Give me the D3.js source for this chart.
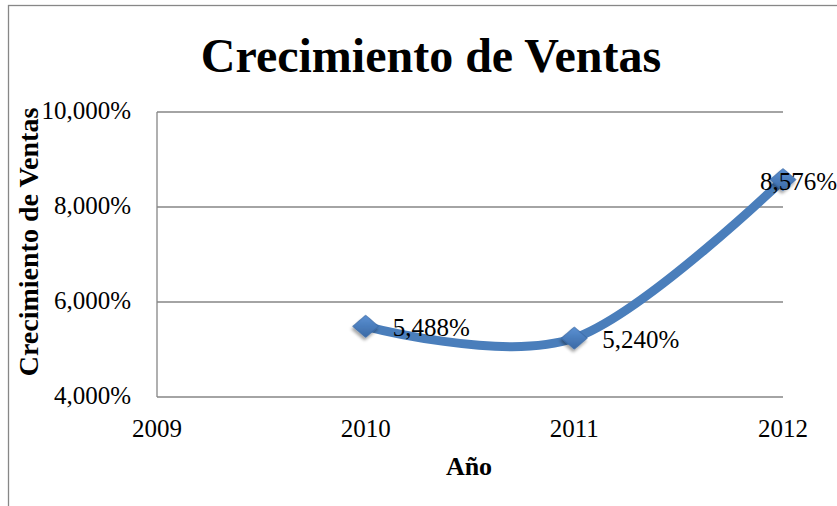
<!DOCTYPE html>
<meta charset="utf-8">
<style>
    body {
        margin: 0;
        background: #fff;
    }
    svg text {
        font-family: "Liberation Serif", "Times New Roman", serif;
        fill: #000;
    }
    .grid line {
        stroke: #868686;
        stroke-width: 1.3px;
    }
</style>
<body>
<script src="https://d3js.org/d3.v7.min.js"></script>
<script>
    var years = [2010, 2011, 2012];
    var ventas = [5488, 5240, 8576];
    var yTicks = [4000, 6000, 8000, 10000];
    var xTicks = [2009, 2010, 2011, 2012];

    var W = 837, H = 506;
    var margin = {top: 112, right: 54, bottom: 109, left: 157},
        width = W - margin.left - margin.right,
        height = H - margin.top - margin.bottom;

    var fmt = function(v) { return d3.format(",.0f")(v) + "%"; };

    var svg = d3.select("body").append("svg")
        .attr("width", W)
        .attr("height", H);

    var defs = svg.append("defs");
    var grad = defs.append("linearGradient")
        .attr("id", "mk").attr("x1", 0).attr("y1", 0).attr("x2", 1).attr("y2", 1);
    grad.append("stop").attr("offset", "0%").attr("stop-color", "#5b91d3");
    grad.append("stop").attr("offset", "100%").attr("stop-color", "#3a69a5");
    defs.append("filter")
        .attr("id", "shadow")
        .attr("x", "-50%").attr("y", "-50%").attr("width", "200%").attr("height", "200%")
        .append("feDropShadow")
        .attr("dx", 1.5).attr("dy", 3).attr("stdDeviation", 1.8)
        .attr("flood-color", "#000").attr("flood-opacity", 0.35);

    // marco del gráfico
    svg.append("rect")
        .attr("x", 8.5).attr("y", 5.5)
        .attr("width", W + 10).attr("height", H + 10)
        .attr("fill", "none")
        .attr("stroke", "#878787")
        .attr("stroke-width", 1.3);

    svg.append("text")
        .attr("x", 431).attr("y", 72)
        .attr("text-anchor", "middle")
        .style("font-size", "48px")
        .style("font-weight", "bold")
        .text("Crecimiento de Ventas");

    var g = svg.append("g")
        .attr("transform", "translate(" + margin.left + "," + margin.top + ")");

    var x = d3.scaleLinear().domain([2009, 2012]).range([0, width]);
    var y = d3.scaleLinear().domain([4000, 10000]).range([height, 0]);

    g.append("g").attr("class", "grid")
        .selectAll("line")
        .data(yTicks.slice(1))
        .enter().append("line")
        .attr("x1", 0).attr("x2", width)
        .attr("y1", function(d) { return y(d); })
        .attr("y2", function(d) { return y(d); });

    // ejes
    g.append("line")
        .attr("x1", 0).attr("x2", 0).attr("y1", 0).attr("y2", height)
        .attr("stroke", "#868686").attr("stroke-width", 1.3);
    g.append("line")
        .attr("x1", 0).attr("x2", width).attr("y1", height).attr("y2", height)
        .attr("stroke", "#868686").attr("stroke-width", 1.3);

    g.selectAll(".ytick")
        .data(yTicks)
        .enter().append("text")
        .attr("class", "ytick")
        .attr("x", -26)
        .attr("y", function(d) { return y(d) + 7; })
        .attr("text-anchor", "end")
        .style("font-size", "25px")
        .text(fmt);

    g.selectAll(".xtick")
        .data(xTicks)
        .enter().append("text")
        .attr("class", "xtick")
        .attr("x", function(d) { return x(d); })
        .attr("y", height + 40)
        .attr("text-anchor", "middle")
        .style("font-size", "25px")
        .text(function(d) { return d; });

    svg.append("text")
        .attr("x", 469).attr("y", 475)
        .attr("text-anchor", "middle")
        .style("font-size", "26px")
        .style("font-weight", "bold")
        .text("Año");

    svg.append("text")
        .attr("transform", "translate(38,242) rotate(-90)")
        .attr("text-anchor", "middle")
        .style("font-size", "28px")
        .style("font-weight", "bold")
        .text("Crecimiento de Ventas");

    var data = years.map(function(d, i) { return {year: d, v: ventas[i]}; });

    var line = d3.line()
        .curve(d3.curveCatmullRom.alpha(0))
        .x(function(d) { return x(d.year); })
        .y(function(d) { return y(d.v); });

    g.append("path")
        .datum(data)
        .attr("d", line)
        .attr("fill", "none")
        .attr("stroke", "#4a7ebb")
        .attr("stroke-width", 9)
        .attr("stroke-linecap", "round");

    var sym = d3.symbol().type(d3.symbolSquare).size(300);
    g.selectAll(".mark")
        .data(data)
        .enter().append("path")
        .attr("class", "mark")
        .attr("d", sym)
        .attr("transform", function(d) {
            return "translate(" + x(d.year) + "," + y(d.v) + ") scale(1.05,0.9) rotate(45)";
        })
        .attr("fill", "url(#mk)")
        .attr("stroke", "#3a69a5")
        .attr("stroke-width", 0.8)
        .attr("filter", "url(#shadow)");

    var labelOff = [[27, 10], [28, 10], [-23, 10]];
    g.selectAll(".lbl")
        .data(data)
        .enter().append("text")
        .attr("class", "lbl")
        .attr("x", function(d, i) { return x(d.year) + labelOff[i][0]; })
        .attr("y", function(d, i) { return y(d.v) + labelOff[i][1]; })
        .style("font-size", "25px")
        .text(function(d) { return fmt(d.v); });
</script>
</body>
